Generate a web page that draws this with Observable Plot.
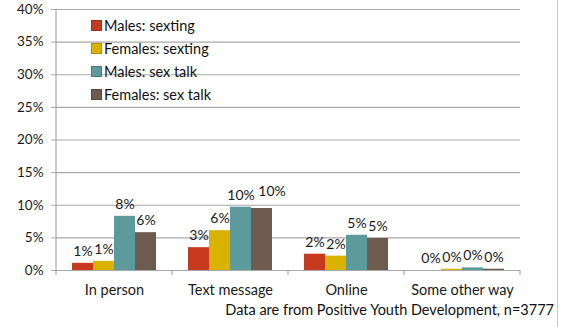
<!DOCTYPE html>
<html>
<head>
<meta charset="utf-8">
<script src="https://cdn.jsdelivr.net/npm/d3@7"></script>
<script src="https://cdn.jsdelivr.net/npm/@observablehq/plot@0.6"></script>
<style>
  html, body { margin: 0; padding: 0; background: #fff; }
  body { width: 568px; height: 327px; overflow: hidden; position: relative; font-family: Lato, "Open Sans", sans-serif; color: #111; }
  #legend { position: absolute; left: 91px; top: 14px; font-size: 14.5px; line-height: 23px; }
  #legend div { display: flex; align-items: center; white-space: nowrap; }
  #legend span.sw { display: inline-block; width: 11px; height: 11px; margin-right: 2px; box-sizing: border-box; }
  #caption { position: absolute; right: 14px; top: 301px; font-size: 14.5px; white-space: nowrap; }
  #edge { position: absolute; left: 557px; top: 0; width: 1px; height: 327px; background: #b8ccd6; }
</style>
</head>
<body>
<div id="chart"></div>
<div id="legend"></div>
<div id="caption"></div>
<div id="edge"></div>
<script>
const categories = ["In person", "Text message", "Online", "Some other way"];
const series = ["Males: sexting", "Females: sexting", "Males: sex talk", "Females: sex talk"];
const colors = ["#c83a1f", "#d9b300", "#5c9a9c", "#6e5b50"];
const malesSexting   = [1.1, 3.5, 2.5, 0.0];
const femalesSexting = [1.4, 6.1, 2.2, 0.2];
const malesSexTalk   = [8.3, 9.7, 5.4, 0.4];
const femalesSexTalk = [5.8, 9.5, 4.9, 0.2];
const labels = [
  ["1%", "3%", "2%", "0%"],
  ["1%", "6%", "2%", "0%"],
  ["8%", "10%", "5%", "0%"],
  ["6%", "10%", "5%", "0%"]
];
const yTicks = [0, 5, 10, 15, 20, 25, 30, 35, 40];
const captionText = "Data are from Positive Youth Development, n=3777";

const seriesValues = [malesSexting, femalesSexting, malesSexTalk, femalesSexTalk];
const data = [];
categories.forEach((c, i) => {
  series.forEach((s, j) => {
    data.push({category: c, series: s, value: seriesValues[j][i], label: labels[j][i]});
  });
});
// the one label that Excel nudged aside to avoid its neighbour
const isNudged = d => d.category === "Text message" && d.series === "Females: sex talk";

const chart = Plot.plot({
  width: 568,
  height: 298,
  marginLeft: 55,
  marginRight: 48,
  marginTop: 9,
  marginBottom: 28,
  style: {fontFamily: "Lato, 'Open Sans', sans-serif", fontSize: "13px", color: "#1a1a1a", background: "#fff"},
  fx: {domain: categories, padding: 0, label: null},
  x: {domain: series, paddingInner: 0, paddingOuter: 0.7, axis: null},
  y: {domain: [0, 40], ticks: yTicks, label: null},
  color: {domain: series, range: colors},
  marks: [
    Plot.gridY(yTicks, {stroke: "#a8a8a8", strokeOpacity: 1, strokeWidth: 1.2}),
    Plot.axisY(yTicks, {tickFormat: d => d + "%", tickSize: 5, tickPadding: 8, stroke: "#a8a8a8", fontSize: 13.5, label: null}),
    Plot.axisFx({anchor: "bottom", tickSize: 0, tickPadding: 14, fontSize: 14.5, label: null}),
    Plot.barY(data, {fx: "category", x: "series", y: "value", fill: "series"}),
    Plot.text(data.filter(d => !isNudged(d)), {fx: "category", x: "series", y: "value", text: "label", dy: -12, fontSize: 14, fill: "#1a1a1a"}),
    Plot.text(data.filter(isNudged), {fx: "category", x: "series", y: "value", text: "label", dy: -17, dx: 10, fontSize: 14, fill: "#1a1a1a"}),
    Plot.ruleY([0], {stroke: "#a8a8a8", strokeWidth: 1.2})
  ]
});
document.getElementById("chart").appendChild(chart);

// left axis line and boundary ticks between categories, positioned with the plot's own scales
const svg = d3.select(chart);
const fx = chart.scale("fx");
const y = chart.scale("y");
const y0 = y.apply(0), y40 = y.apply(40);
const xLeft = fx.apply(categories[0]);
svg.append("line").attr("x1", xLeft).attr("x2", xLeft).attr("y1", y40).attr("y2", y0 + 5)
  .attr("stroke", "#a8a8a8").attr("stroke-width", 1.2);
categories.forEach(c => {
  const xe = fx.apply(c) + fx.bandwidth;
  svg.append("line").attr("x1", xe).attr("x2", xe).attr("y1", y0).attr("y2", y0 + 5)
    .attr("stroke", "#a8a8a8").attr("stroke-width", 1.2);
});

const legend = d3.select("#legend");
series.forEach((s, i) => {
  const row = legend.append("div");
  row.append("span").attr("class", "sw").style("background", colors[i]).style("border", "1px solid " + d3.color(colors[i]).darker(0.6));
  row.append("span").text(s);
});
document.getElementById("caption").textContent = captionText;
</script>
</body>
</html>
